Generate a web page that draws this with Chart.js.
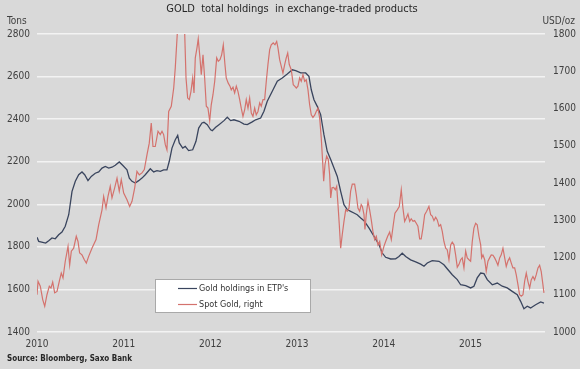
<!DOCTYPE html>
<html><head><meta charset="utf-8">
<script src="https://cdn.jsdelivr.net/npm/chart.js@4/dist/chart.umd.min.js"></script>
<style>
html,body{margin:0;padding:0;background:#d9d9d9;}
#wrap{width:580px;height:369px;position:relative;}
canvas{display:block;}
</style>
</head><body><div id="wrap"><canvas id="c" width="580" height="369"></canvas></div>
<script>
const TITLE = "GOLD  total holdings  in exchange-traded products";
const LEFT_UNIT = "Tons";
const RIGHT_UNIT = "USD/oz";
const SOURCE = "Source: Bloomberg, Saxo Bank";
const SERIES_NAMES = ["Gold holdings in ETP's", "Spot Gold, right"];
const yearTicks = [2010, 2011, 2012, 2013, 2014, 2015];
const leftTicks = [1400, 1600, 1800, 2000, 2200, 2400, 2600, 2800];
const rightTicks = [1000, 1100, 1200, 1300, 1400, 1500, 1600, 1700, 1800];

const holdingsDates = [2010.00,2010.02,2010.10,2010.135,2010.173,2010.211,2010.25,2010.288,2010.326,2010.366,
2010.404,2010.442,2010.481,2010.519,2010.55,2010.588,2010.626,2010.672,2010.712,2010.75,
2010.788,2010.827,2010.865,2010.903,2010.949,2010.988,2011.038,2011.065,2011.096,2011.134,
2011.173,2011.211,2011.249,2011.307,2011.346,2011.384,2011.422,2011.461,2011.499,2011.526,
2011.557,2011.595,2011.623,2011.641,2011.681,2011.71,2011.749,2011.796,2011.834,2011.865,
2011.903,2011.926,2011.964,2012.003,2012.022,2012.061,2012.099,2012.157,2012.195,2012.234,
2012.272,2012.33,2012.388,2012.426,2012.483,2012.522,2012.58,2012.618,2012.656,2012.714,
2012.772,2012.829,2012.887,2012.945,2012.984,2013.042,2013.099,2013.137,2013.164,2013.195,
2013.233,2013.272,2013.31,2013.348,2013.388,2013.426,2013.464,2013.503,2013.541,2013.579,
2013.618,2013.656,2013.694,2013.734,2013.772,2013.829,2013.887,2013.945,2013.983,2014.022,
2014.08,2014.137,2014.175,2014.213,2014.253,2014.31,2014.368,2014.426,2014.464,2014.502,
2014.559,2014.637,2014.694,2014.732,2014.79,2014.848,2014.887,2014.945,2015.002,2015.04,
2015.078,2015.118,2015.156,2015.194,2015.252,2015.309,2015.367,2015.424,2015.482,2015.54,
2015.579,2015.617,2015.655,2015.694,2015.752,2015.81,2015.848];
const holdingsTons = [1845,1826,1818,1829,1842,1838,1857,1870,1897,1951,
2061,2108,2139,2152,2139,2111,2131,2146,2152,2170,
2178,2170,2174,2183,2199,2183,2162,2123,2108,2100,
2111,2123,2139,2167,2152,2158,2155,2162,2162,2202,
2264,2303,2324,2288,2264,2272,2252,2256,2296,2358,
2382,2385,2374,2350,2346,2362,2374,2393,2409,2393,
2397,2390,2377,2374,2387,2397,2405,2437,2484,2531,
2578,2593,2612,2632,2628,2617,2617,2601,2538,2491,
2460,2421,2327,2249,2210,2170,2131,2061,1998,1975,
1967,1959,1951,1936,1923,1889,1850,1810,1771,1751,
1743,1744,1755,1770,1755,1739,1729,1719,1709,1724,
1735,1732,1716,1697,1669,1646,1622,1618,1607,1615,
1654,1677,1674,1646,1622,1630,1615,1607,1591,1575,
1544,1509,1521,1513,1528,1541,1536];

const spotDates = [2010.000,2010.012,2010.038,2010.066,2010.089,2010.115,2010.142,2010.161,2010.181,2010.204,
2010.231,2010.257,2010.280,2010.300,2010.326,2010.358,2010.377,2010.396,2010.423,2010.453,
2010.473,2010.492,2010.519,2010.546,2010.569,2010.596,2010.634,2010.681,2010.712,2010.750,
2010.769,2010.796,2010.819,2010.845,2010.865,2010.896,2010.923,2010.949,2010.972,2011.000,
2011.038,2011.069,2011.096,2011.127,2011.153,2011.180,2011.211,2011.238,2011.269,2011.295,
2011.318,2011.338,2011.364,2011.396,2011.422,2011.442,2011.461,2011.480,2011.499,2011.519,
2011.549,2011.577,2011.595,2011.618,2011.640,2011.670,2011.695,2011.704,2011.719,2011.738,
2011.757,2011.776,2011.796,2011.811,2011.826,2011.845,2011.860,2011.880,2011.895,2011.915,
2011.934,2011.953,2011.972,2011.992,2012.010,2012.030,2012.050,2012.073,2012.091,2012.111,
2012.130,2012.149,2012.168,2012.183,2012.206,2012.226,2012.241,2012.261,2012.280,2012.299,
2012.318,2012.338,2012.356,2012.376,2012.396,2012.414,2012.434,2012.453,2012.472,2012.491,
2012.511,2012.529,2012.549,2012.569,2012.587,2012.607,2012.626,2012.645,2012.664,2012.684,
2012.702,2012.725,2012.745,2012.765,2012.780,2012.799,2012.818,2012.837,2012.857,2012.875,
2012.892,2012.910,2012.933,2012.956,2012.972,2012.991,2013.010,2013.030,2013.048,2013.068,
2013.088,2013.106,2013.126,2013.145,2013.164,2013.183,2013.203,2013.221,2013.241,2013.261,
2013.279,2013.295,2013.307,2013.322,2013.341,2013.360,2013.376,2013.388,2013.403,2013.422,
2013.441,2013.457,2013.472,2013.487,2013.503,2013.521,2013.541,2013.561,2013.579,2013.599,
2013.618,2013.637,2013.664,2013.683,2013.702,2013.722,2013.740,2013.753,2013.772,2013.783,
2013.798,2013.818,2013.837,2013.856,2013.875,2013.895,2013.914,2013.933,2013.953,2013.976,
2014.002,2014.022,2014.045,2014.068,2014.087,2014.110,2014.129,2014.156,2014.179,2014.202,
2014.221,2014.241,2014.260,2014.279,2014.299,2014.317,2014.337,2014.356,2014.375,2014.394,
2014.414,2014.432,2014.452,2014.472,2014.495,2014.521,2014.541,2014.559,2014.579,2014.599,
2014.617,2014.637,2014.656,2014.675,2014.694,2014.714,2014.732,2014.752,2014.772,2014.790,
2014.810,2014.829,2014.848,2014.867,2014.887,2014.905,2014.925,2014.945,2014.963,2014.983,
2015.002,2015.021,2015.040,2015.060,2015.078,2015.098,2015.118,2015.129,2015.144,2015.164,
2015.182,2015.202,2015.221,2015.240,2015.260,2015.279,2015.298,2015.317,2015.337,2015.355,
2015.375,2015.395,2015.413,2015.433,2015.452,2015.471,2015.490,2015.510,2015.528,2015.548,
2015.567,2015.586,2015.606,2015.625,2015.644,2015.663,2015.683,2015.701,2015.721,2015.740,
2015.759,2015.779,2015.798,2015.816,2015.836,2015.848];
const spotUsd = [1100,1136,1123,1087,1069,1100,1123,1118,1134,1105,
1109,1136,1158,1145,1190,1230,1180,1217,1225,1257,
1243,1212,1207,1194,1185,1203,1225,1248,1288,1328,
1364,1333,1364,1391,1360,1387,1413,1378,1409,1373,
1355,1337,1351,1387,1431,1422,1427,1436,1476,1507,
1561,1498,1498,1539,1530,1539,1530,1503,1489,1592,
1606,1655,1709,1800,1850,1890,1870,1800,1682,1628,
1624,1646,1682,1642,1736,1762,1787,1736,1691,1744,
1682,1606,1601,1567,1610,1637,1673,1736,1727,1731,
1744,1771,1718,1682,1668,1660,1650,1657,1642,1660,
1646,1624,1601,1579,1597,1624,1601,1628,1588,1579,
1601,1583,1592,1615,1606,1624,1624,1673,1718,1758,
1771,1776,1771,1780,1762,1731,1713,1695,1718,1736,
1749,1718,1704,1664,1660,1655,1660,1682,1673,1691,
1673,1677,1650,1610,1583,1576,1582,1592,1601,1574,
1521,1458,1405,1449,1472,1463,1422,1360,1387,1388,
1382,1391,1342,1288,1225,1261,1297,1328,1324,1333,
1378,1397,1397,1369,1333,1324,1342,1337,1315,1275,
1315,1351,1328,1301,1270,1248,1257,1234,1243,1207,
1230,1243,1257,1268,1248,1288,1319,1328,1337,1382,
1333,1297,1306,1317,1297,1304,1297,1299,1292,1284,
1250,1250,1279,1315,1324,1337,1315,1311,1299,1308,
1301,1284,1288,1270,1243,1225,1221,1194,1234,1241,
1234,1207,1174,1181,1194,1199,1172,1217,1199,1194,
1190,1243,1279,1292,1288,1257,1234,1199,1207,1194,
1163,1190,1199,1207,1206,1199,1190,1179,1199,1207,
1225,1199,1176,1191,1199,1185,1172,1172,1154,1127,
1100,1096,1100,1136,1158,1136,1118,1140,1149,1140,
1154,1172,1179,1163,1127,1105];

const FONT = '"DejaVu Sans Condensed", "Liberation Sans", sans-serif';
const TEXT = '#404040';
const BLUE = '#3a455e';
const RED = '#d4726d';

const textPlugin = {
  id: 'texts',
  afterDraw(chart) {
    const ctx = chart.ctx;
    ctx.save();
    ctx.fillStyle = '#262626';
    ctx.textBaseline = 'middle';
    ctx.font = '11px ' + FONT;
    ctx.textAlign = 'center';
    ctx.fillText(TITLE, 292, 9.5);
    ctx.fillStyle = TEXT;
    ctx.font = '10px ' + FONT;
    ctx.textAlign = 'left';
    ctx.fillText(LEFT_UNIT, 7, 21);
    ctx.textAlign = 'right';
    ctx.fillText(RIGHT_UNIT, 575, 21);
    ctx.font = 'bold 8px ' + FONT;
    ctx.textAlign = 'left';
    ctx.fillStyle = '#262626';
    ctx.fillText(SOURCE, 7, 359);
    // legend
    ctx.fillStyle = '#ffffff';
    ctx.fillRect(155, 279, 155, 33);
    ctx.strokeStyle = '#a9a9a9';
    ctx.lineWidth = 1;
    ctx.strokeRect(155.5, 279.5, 155, 33);
    ctx.font = '9px ' + FONT;
    ctx.textAlign = 'left';
    const rows = [288, 304];
    chart.data.datasets.forEach((ds, i) => {
      const y = rows[i];
      ctx.strokeStyle = ds.borderColor;
      ctx.lineWidth = 1.2;
      ctx.beginPath();
      ctx.moveTo(178, y + 0.5);
      ctx.lineTo(197, y + 0.5);
      ctx.stroke();
      ctx.fillStyle = '#333333';
      ctx.fillText(ds.label, 199, y + 0.5);
    });
    ctx.restore();
  }
};

const plain = v => String(v);

new Chart(document.getElementById('c'), {
  type: 'line',
  data: {
    datasets: [
      {
        label: SERIES_NAMES[0],
        data: holdingsDates.map((d, i) => ({x: d, y: holdingsTons[i]})),
        borderColor: BLUE, borderWidth: 1.3, pointRadius: 0, tension: 0,
        yAxisID: 'yL', order: 2
      },
      {
        label: SERIES_NAMES[1],
        data: spotDates.map((d, i) => ({x: d, y: spotUsd[i]})),
        borderColor: RED, borderWidth: 1.2, pointRadius: 0, tension: 0,
        yAxisID: 'yR', order: 1
      }
    ]
  },
  options: {
    responsive: false,
    animation: false,
    devicePixelRatio: 1,
    layout: {padding: {top: 34, left: 0, right: 0, bottom: 0}},
    plugins: {legend: {display: false}, tooltip: {enabled: false}, title: {display: false}},
    scales: {
      x: {
        type: 'linear', position: 'bottom', min: 2010, max: 2015.86,
        afterBuildTicks: s => { s.ticks = yearTicks.map(v => ({value: v})); },
        afterFit: s => { s.height = 37; },
        grid: {display: false, drawTicks: false},
        border: {display: false},
        ticks: {autoSkip: false, maxRotation: 0, padding: 6, color: TEXT,
                font: {family: FONT, size: 10}, callback: plain}
      },
      yL: {
        position: 'left', min: 1400, max: 2800,
        afterBuildTicks: s => { s.ticks = leftTicks.map(v => ({value: v})); },
        afterFit: s => { s.width = 37; },
        grid: {color: '#f3f3f3', lineWidth: 1.5, drawTicks: false},
        border: {display: false},
        ticks: {padding: 7, color: TEXT, font: {family: FONT, size: 10}, callback: plain}
      },
      yR: {
        position: 'right', min: 1000, max: 1800,
        afterBuildTicks: s => { s.ticks = rightTicks.map(v => ({value: v})); },
        afterFit: s => { s.width = 35; },
        grid: {display: false, drawTicks: false},
        border: {display: false},
        ticks: {padding: 8, color: TEXT, font: {family: FONT, size: 10}, callback: plain}
      }
    }
  },
  plugins: [textPlugin]
});
</script>
</body></html>
